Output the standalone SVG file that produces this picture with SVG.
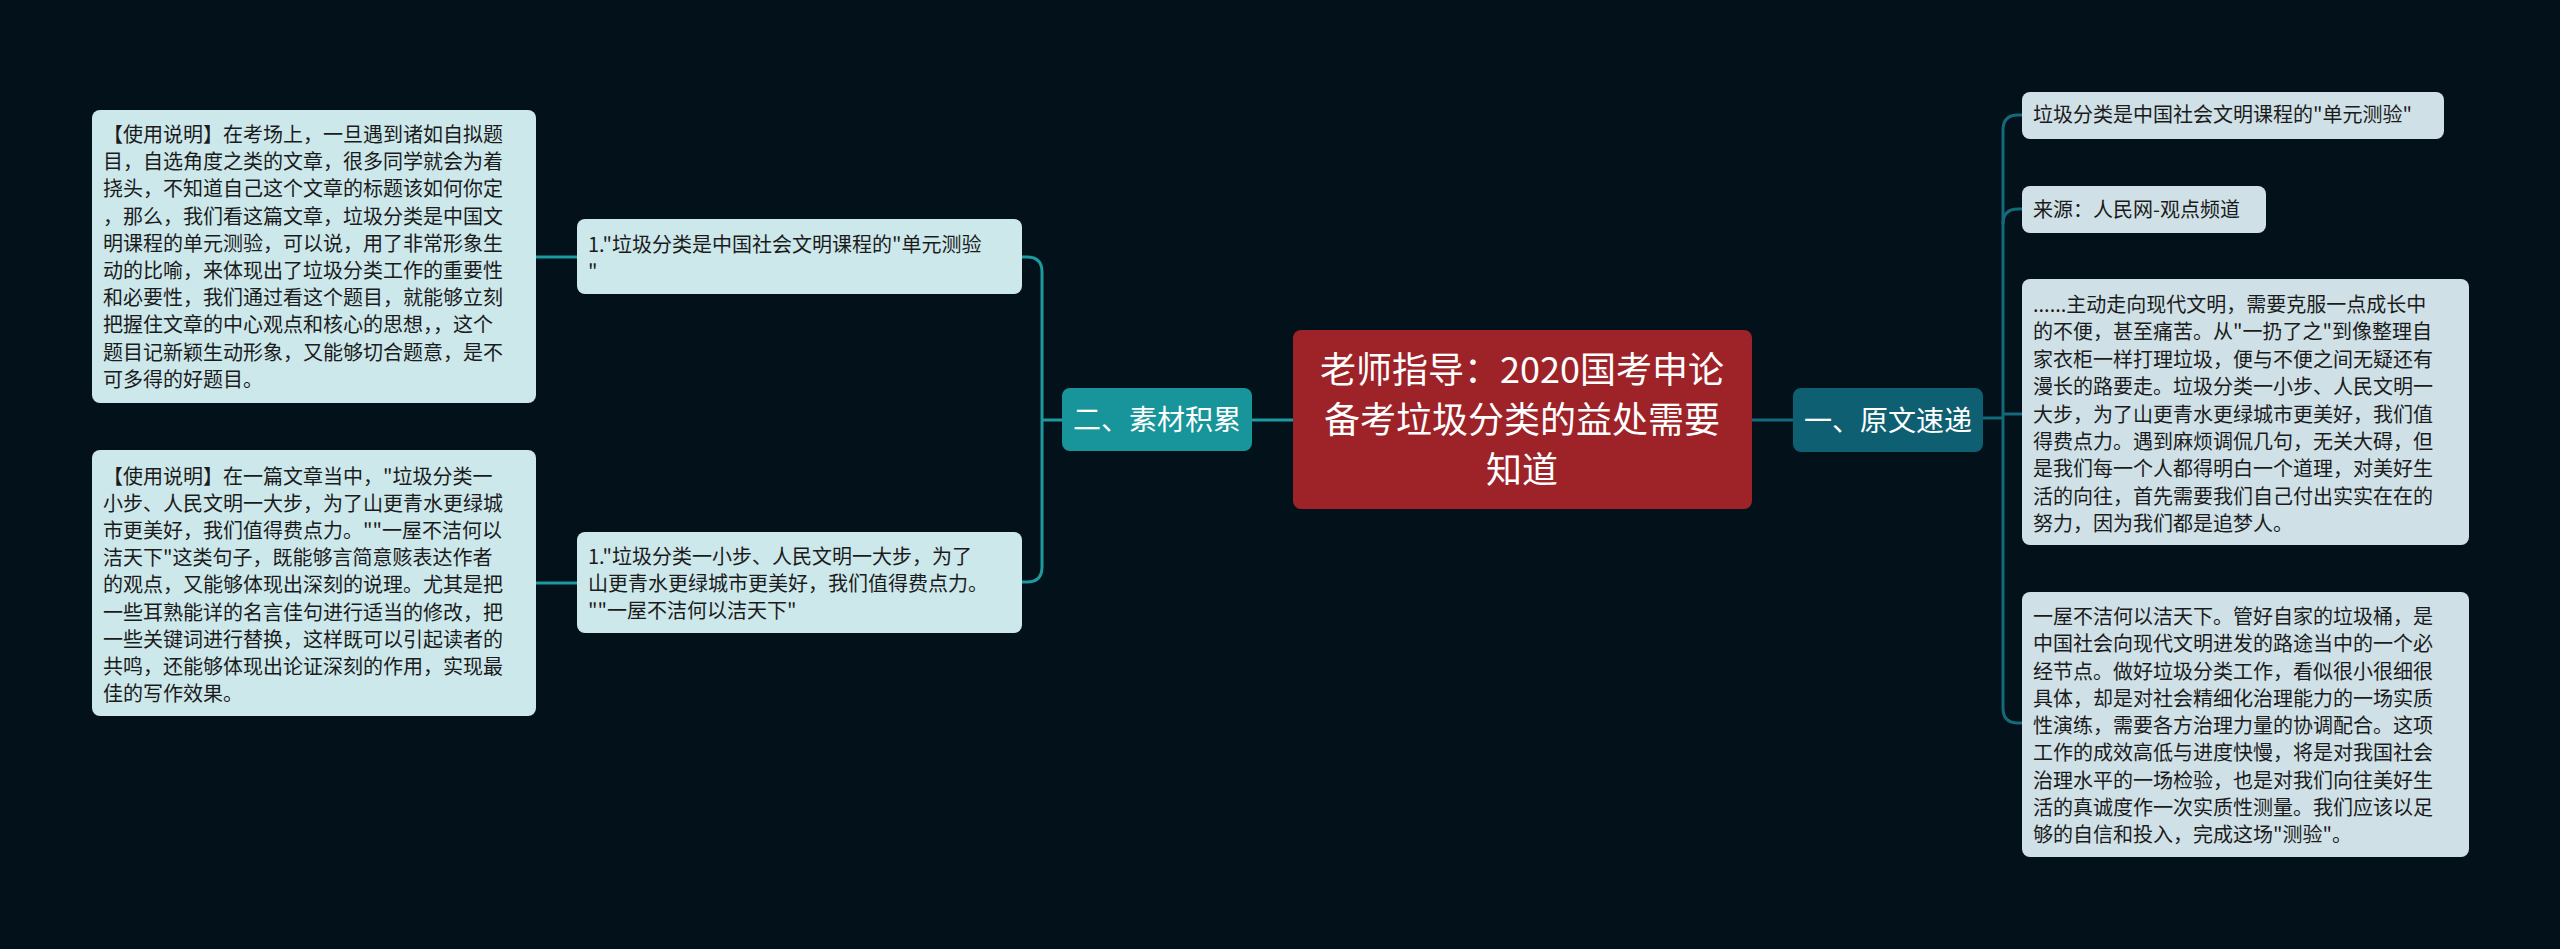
<svg xmlns="http://www.w3.org/2000/svg" width="2560" height="949" viewBox="0 0 2560 949">
<style>
.bg{fill:#03111a}
.lbox{fill:#cde8eb}
.rbox{fill:#cfe1e7}
.t{font-family:"Noto Sans CJK SC","Noto Sans",sans-serif;font-size:20px;fill:#1b1b1b}
.w{font-family:"Noto Sans CJK SC","Noto Sans",sans-serif;fill:#ffffff;text-anchor:middle}
.lc{fill:none;stroke:#1c9aa0;stroke-width:3}
.rc{fill:none;stroke:#15697c;stroke-width:3}
</style>
<rect class="bg" x="0" y="0" width="2560" height="949"/>
<g id="connectors">
<path class="lc" d="M1293,420 H1252"/>
<path class="lc" d="M1062,420 H1042"/>
<path class="lc" d="M1022,257 H1027 Q1042,257 1042,272 V567 Q1042,582 1027,582 H1022"/>
<path class="lc" d="M577,257 H536"/>
<path class="lc" d="M577,583 H536"/>
<path class="rc" d="M1752,420 H1793"/>
<path class="rc" d="M1983,418 H2003"/>
<path class="rc" d="M2022,115 H2018 Q2003,115 2003,130 V708 Q2003,723 2018,723 H2022"/>
<path class="rc" d="M2003,224 Q2003,209 2018,209 H2022"/>
<path class="rc" d="M2003,414 H2022"/>
</g>
<g id="center">
<rect x="1293" y="330" width="459" height="179" rx="8" fill="#9e2329"/>
<text class="w" font-size="36"><tspan x="1522" y="383">老师指导：2020国考申论</tspan><tspan x="1522" y="433">备考垃圾分类的益处需要</tspan><tspan x="1522" y="483">知道</tspan></text>
</g>
<g id="n-yi">
<rect x="1793" y="388" width="190" height="64" rx="8" fill="#0f5f72"/>
<text class="w" font-size="28" x="1888" y="431">一、原文速递</text>
</g>
<g id="n-er">
<rect x="1062" y="388" width="190" height="63" rx="8" fill="#17959a"/>
<text class="w" font-size="28" x="1157" y="430">二、素材积累</text>
</g>
<g id="boxA">
<rect class="lbox" x="577" y="219" width="445" height="75" rx="8"/>
<text class="t"><tspan x="588" y="252">1."垃圾分类是中国社会文明课程的"单元测验</tspan><tspan x="588" y="279">"</tspan></text>
</g>
<g id="boxB">
<rect class="lbox" x="577" y="532" width="445" height="101" rx="8"/>
<text class="t"><tspan x="588" y="564">1."垃圾分类一小步、人民文明一大步，为了</tspan><tspan x="588" y="591">山更青水更绿城市更美好，我们值得费点力。</tspan><tspan x="588" y="618">""一屋不洁何以洁天下"</tspan></text>
</g>
<g id="box1">
<rect class="lbox" x="92" y="110" width="444" height="293" rx="8"/>
<text class="t"><tspan x="103" y="142">【使用说明】在考场上，一旦遇到诸如自拟题</tspan><tspan x="103" y="169.2">目，自选角度之类的文章，很多同学就会为着</tspan><tspan x="103" y="196.4">挠头，不知道自己这个文章的标题该如何你定</tspan><tspan x="103" y="223.6">，那么，我们看这篇文章，垃圾分类是中国文</tspan><tspan x="103" y="250.8">明课程的单元测验，可以说，用了非常形象生</tspan><tspan x="103" y="278">动的比喻，来体现出了垃圾分类工作的重要性</tspan><tspan x="103" y="305.2">和必要性，我们通过看这个题目，就能够立刻</tspan><tspan x="103" y="332.4">把握住文章的中心观点和核心的思想，，这个</tspan><tspan x="103" y="359.6">题目记新颖生动形象，又能够切合题意，是不</tspan><tspan x="103" y="386.8">可多得的好题目。</tspan></text>
</g>
<g id="box2">
<rect class="lbox" x="92" y="450" width="444" height="266" rx="8"/>
<text class="t"><tspan x="103" y="484">【使用说明】在一篇文章当中，"垃圾分类一</tspan><tspan x="103" y="511.1">小步、人民文明一大步，为了山更青水更绿城</tspan><tspan x="103" y="538.2">市更美好，我们值得费点力。""一屋不洁何以</tspan><tspan x="103" y="565.3">洁天下"这类句子，既能够言简意赅表达作者</tspan><tspan x="103" y="592.4">的观点，又能够体现出深刻的说理。尤其是把</tspan><tspan x="103" y="619.5">一些耳熟能详的名言佳句进行适当的修改，把</tspan><tspan x="103" y="646.6">一些关键词进行替换，这样既可以引起读者的</tspan><tspan x="103" y="673.7">共鸣，还能够体现出论证深刻的作用，实现最</tspan><tspan x="103" y="700.8">佳的写作效果。</tspan></text>
</g>
<g id="r1">
<rect class="rbox" x="2022" y="92" width="422" height="47" rx="8"/>
<text class="t" x="2033" y="122">垃圾分类是中国社会文明课程的"单元测验"</text>
</g>
<g id="r2">
<rect class="rbox" x="2022" y="186" width="244" height="47" rx="8"/>
<text class="t" x="2033" y="217">来源：人民网-观点频道</text>
</g>
<g id="r3">
<rect class="rbox" x="2022" y="279" width="447" height="266" rx="8"/>
<text class="t"><tspan x="2033" y="312">......主动走向现代文明，需要克服一点成长中</tspan><tspan x="2033" y="339.4">的不便，甚至痛苦。从"一扔了之"到像整理自</tspan><tspan x="2033" y="366.8">家衣柜一样打理垃圾，便与不便之间无疑还有</tspan><tspan x="2033" y="394.2">漫长的路要走。垃圾分类一小步、人民文明一</tspan><tspan x="2033" y="421.6">大步，为了山更青水更绿城市更美好，我们值</tspan><tspan x="2033" y="449">得费点力。遇到麻烦调侃几句，无关大碍，但</tspan><tspan x="2033" y="476.4">是我们每一个人都得明白一个道理，对美好生</tspan><tspan x="2033" y="503.8">活的向往，首先需要我们自己付出实实在在的</tspan><tspan x="2033" y="531.2">努力，因为我们都是追梦人。</tspan></text>
</g>
<g id="r4">
<rect class="rbox" x="2022" y="592" width="447" height="265" rx="8"/>
<text class="t"><tspan x="2033" y="624">一屋不洁何以洁天下。管好自家的垃圾桶，是</tspan><tspan x="2033" y="651.25">中国社会向现代文明进发的路途当中的一个必</tspan><tspan x="2033" y="678.5">经节点。做好垃圾分类工作，看似很小很细很</tspan><tspan x="2033" y="705.75">具体，却是对社会精细化治理能力的一场实质</tspan><tspan x="2033" y="733">性演练，需要各方治理力量的协调配合。这项</tspan><tspan x="2033" y="760.25">工作的成效高低与进度快慢，将是对我国社会</tspan><tspan x="2033" y="787.5">治理水平的一场检验，也是对我们向往美好生</tspan><tspan x="2033" y="814.75">活的真诚度作一次实质性测量。我们应该以足</tspan><tspan x="2033" y="842">够的自信和投入，完成这场"测验"。</tspan></text>
</g>
</svg>
